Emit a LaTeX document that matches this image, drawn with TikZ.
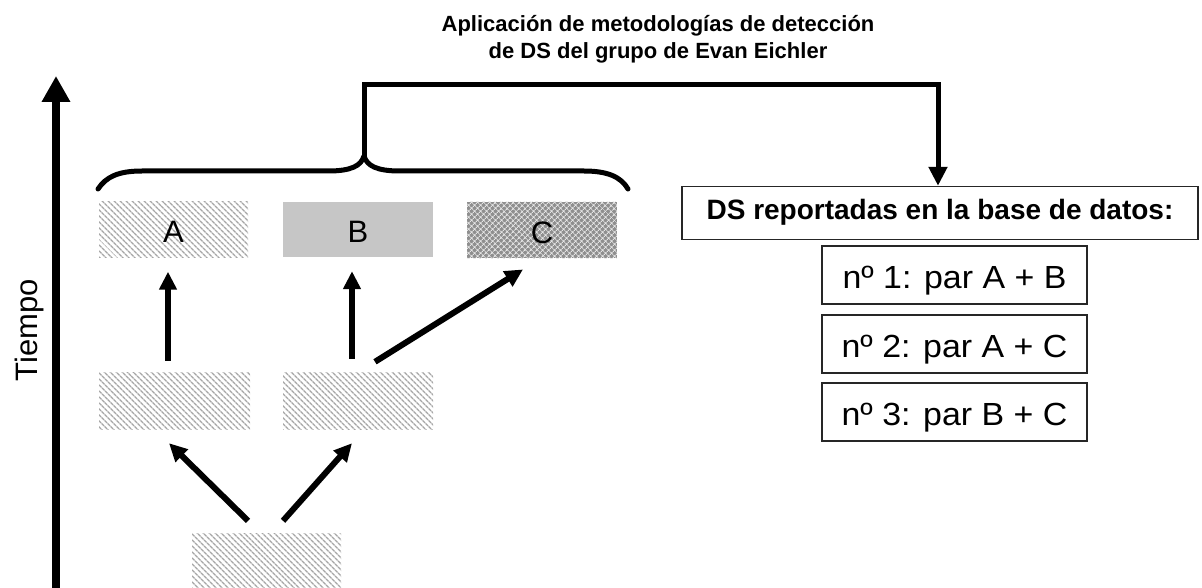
\documentclass[tikz,border=0pt]{standalone}
\usepackage{graphicx}
\usepackage{fontspec}
\setmainfont{Liberation Sans}
\usetikzlibrary{arrows.meta,patterns.meta,calc}
\begin{document}
\begin{tikzpicture}[x=1pt,y=-1pt,
  stripebox/.style={minimum width=151pt, minimum height=57pt, inner sep=0pt,
    pattern={Lines[angle=-45,distance=4pt,line width=1.4pt]}, pattern color=gray!70},
  dotbox/.style={minimum width=150pt, minimum height=55pt, inner sep=0pt,
    preaction={fill=gray!58}, pattern={Dots[distance=2pt,radius=0.55pt]}, pattern color=white},
  crossbox/.style={minimum width=150pt, minimum height=56pt, inner sep=0pt,
    preaction={fill=gray!88}, pattern={Hatch[angle=45,distance=4pt,line width=0.9pt]}, pattern color=white!80!gray},
  letter/.style={font=\fontsize{31}{31}\selectfont, inner sep=0pt, text height=27pt, text depth=0pt},
  listbox/.style={draw=black!85, line width=1.4pt, minimum width=265pt, minimum height=58pt,
    inner sep=0pt, font=\fontsize{32}{32}\selectfont, text height=26pt, text depth=0pt},
  bigarrow/.style={line width=6pt, -{Triangle[width=17pt,length=18pt]}},
  bracepath/.style={line width=5pt, line join=round, line cap=round},
  titlefont/.style={font=\fontsize{22}{24}\bfseries\selectfont, anchor=base, inner sep=0pt}
]
\useasboundingbox (0,0) rectangle (1202,588);

% title
\node[titlefont] (title1) at (658,32) {Aplicación de metodologías de detección};
\node[titlefont] (title2) at (658,59) {de DS del grupo de Evan Eichler};

% time axis
\coordinate (tbot) at (56,592);
\coordinate (ttop) at (56,76);
\draw[line width=7.5pt, -{Triangle[width=27pt,length=26pt]}] (tbot) -- (ttop);
\node[rotate=90, anchor=base, inner sep=0pt, font=\fontsize{31}{31}\selectfont] (tiempo) at (37,330) {Tiempo};

% boxes
\node[stripebox, minimum width=149pt, minimum height=55pt] (A) at (173.5,229.5) {};
\node[letter] at (A.center) {A};
\node[dotbox] (B) at (358,229.5) {};
\node[letter] at (B.center) {B};
\node[crossbox] (C) at (542,230) {};
\node[letter] at (C.center) {C};

\node[stripebox] (ml) at (174.5,400.5) {};
\node[stripebox, minimum width=150pt] (mr) at (358,400.5) {};
\node[stripebox, minimum width=149pt, minimum height=58pt] (bt) at (266.5,562) {};

% arrows
\draw[bigarrow] ($(ml.north)+(-6.5,-11)$) -- ($(A.south)+(-5.5,14)$);
\draw[bigarrow] ($(mr.north)+(-6,-13)$) -- ($(B.south)+(-6,14)$);
\draw[bigarrow] ($(mr.north)+(17,-10)$) -- ($(C.south)+(-19,11)$);
\draw[bigarrow] ($(bt.north)+(-18.5,-12)$) -- ($(ml.south)+(-5.5,14)$);
\draw[bigarrow] ($(bt.north)+(16.5,-12)$) -- ($(mr.south)+(-6,14)$);

% brace
\coordinate (cusp) at (364,156);
\draw[bracepath] (98,189) .. controls (106,177) and (118,171) .. (142,171)
  -- (328,171) .. controls (351,171) and (361,166) .. (cusp)
  .. controls (367,166) and (377,171) .. (400,171)
  -- (584,171) .. controls (608,171) and (621,177) .. (628,189);

% database box
\node[draw=black!85, line width=1.4pt, minimum width=516pt, minimum height=53pt, inner sep=0pt,
  font=\fontsize{28}{28}\bfseries\selectfont, text height=14pt, text depth=0pt] (ds) at (940,213) {DS reportadas en la base de datos:};

\draw[line width=5pt, line join=miter, -{Triangle[width=18pt,length=19pt]}]
  (cusp) -- ++(0,-71) -| ([xshift=-2pt]ds.north);

\node[listbox] (n1) at (954.5,275) {\scalebox{1.06}[1]{nº 1: par A + B}};
\node[listbox] (n2) at (954.5,344) {\scalebox{1.06}[1]{nº 2: par A + C}};
\node[listbox] (n3) at (954.5,412) {\scalebox{1.06}[1]{nº 3: par B + C}};
\end{tikzpicture}
\end{document}
